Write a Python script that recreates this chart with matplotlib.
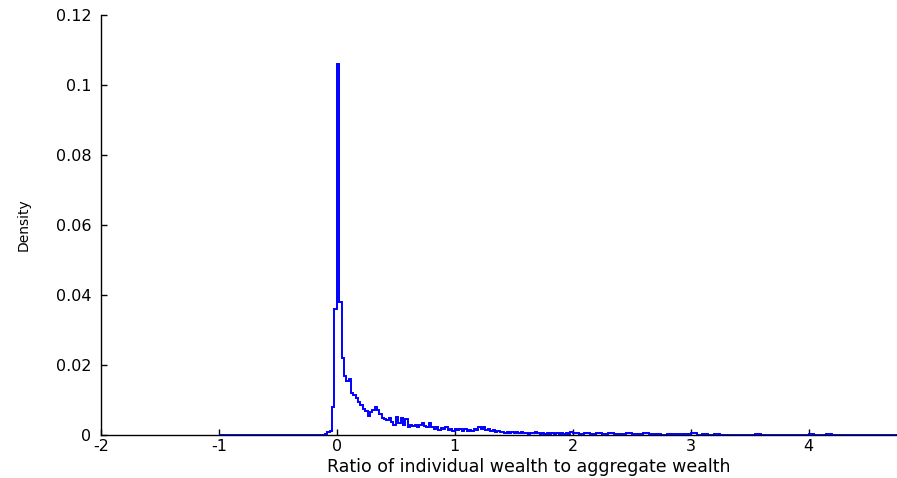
import numpy as np
import matplotlib.pyplot as plt

# density of wealth ratio, fine bins (width 0.02) from -0.10 to 2.00
fine_start = -0.10
fine_width = 0.02
fine_density = [
    0.0004, 0.0008, 0.0012, 0.008, 0.036, 0.106, 0.038, 0.022, 0.017, 0.0155,
    0.016, 0.012, 0.0115, 0.0105, 0.0095, 0.0085, 0.0075, 0.0068, 0.0055, 0.0065,
    0.0072, 0.008, 0.0072, 0.006, 0.005, 0.0045, 0.0042, 0.005, 0.0038, 0.003,
    0.0052, 0.0035, 0.0048, 0.0028, 0.0045, 0.0022, 0.0028, 0.0025, 0.003, 0.0024,
    0.0028, 0.0034, 0.0026, 0.0024, 0.0034, 0.0022, 0.0018, 0.0024, 0.0014, 0.002,
    0.0016, 0.0022, 0.0014, 0.0018, 0.0012, 0.0016, 0.0014, 0.0018, 0.0012, 0.0016,
    0.0011, 0.0015, 0.0012, 0.0018, 0.0014, 0.0024, 0.0018, 0.0022, 0.0013, 0.0017,
    0.0012, 0.0014, 0.0009, 0.0012, 0.0008, 0.001, 0.0007, 0.0009, 0.0006, 0.0009,
    0.0006, 0.0008, 0.0005, 0.0008, 0.0005, 0.0007, 0.0004, 0.0007, 0.0005, 0.001,
    0.0006, 0.0004, 0.0007, 0.0004, 0.0006, 0.0003, 0.0005, 0.0004, 0.0007, 0.0003,
    0.0005, 0.0004, 0.0006, 0.0003, 0.0009,
]

# sparse right tail, coarser bins (width 0.05) from 2.00 to 4.75
tail_start = 2.00
tail_width = 0.05
tail_density = [
    0.0006, 0.0004, 0.0005, 0.0003, 0.0005, 0.0004, 0.0006, 0.0003, 0.0004, 0.0005,
    0.0003, 0.0004, 0.0006, 0.0003, 0.0002, 0.0, 0.0003, 0.0002, 0.0004, 0.0003,
    0.0005, 0.0, 0.0002, 0.0, 0.0004, 0.0, 0.0, 0.0, 0.0, 0.0,
    0.0, 0.0003, 0.0, 0.0, 0.0, 0.0, 0.0, 0.0, 0.0, 0.0,
    0.0004, 0.0, 0.0, 0.0003, 0.0, 0.0, 0.0, 0.0, 0.0, 0.0,
    0.0, 0.0, 0.0, 0.0, 0.0,
]

x_ticks = [-2, -1, 0, 1, 2, 3, 4]
y_ticks = [0, 0.02, 0.04, 0.06, 0.08, 0.1, 0.12]
y_tick_labels = ['0', '0.02', '0.04', '0.06', '0.08', '0.1', '0.12']

fine_edges = fine_start + fine_width * np.arange(len(fine_density) + 1)
tail_edges = tail_start + tail_width * np.arange(len(tail_density) + 1)

# zero run from -1 up to the first bin, then the two binned pieces, then zero to the edge
edges = np.concatenate([[-1.0], fine_edges, tail_edges[1:], [4.9]])
values = np.concatenate([[0.0], fine_density, tail_density, [0.0]])

plt.rcParams['font.family'] = ['DejaVu Sans']

fig = plt.figure(figsize=(8.97, 4.78), dpi=100)
ax = fig.add_axes([101 / 897, 43 / 478, 1 - 101 / 897, 420 / 478])

ax.stairs(values, edges, color='#0000ff', linewidth=1.4, baseline=None, zorder=3)

ax.set_xlim(-2, 4.75)
ax.set_ylim(0, 0.12)
ax.set_xticks(x_ticks)
ax.set_xticklabels([str(t) for t in x_ticks])
ax.set_yticks(y_ticks)
ax.set_yticklabels(y_tick_labels)

ax.spines['top'].set_visible(False)
ax.spines['right'].set_visible(False)
for side in ('left', 'bottom'):
    ax.spines[side].set_linewidth(1.0)
ax.tick_params(direction='in', length=4, width=1.0, labelsize=11.5)
ax.tick_params(axis='y', pad=7)
ax.tick_params(axis='x', pad=3)

ax.set_xlabel('Ratio of individual wealth to aggregate wealth', fontsize=12.5, labelpad=1)
ax.xaxis.set_label_coords(0.538, -0.055)
ax.set_ylabel('Density', fontsize=10)
ax.yaxis.set_label_coords(-0.088, 0.5)

fig.savefig('out.png', dpi=100)
